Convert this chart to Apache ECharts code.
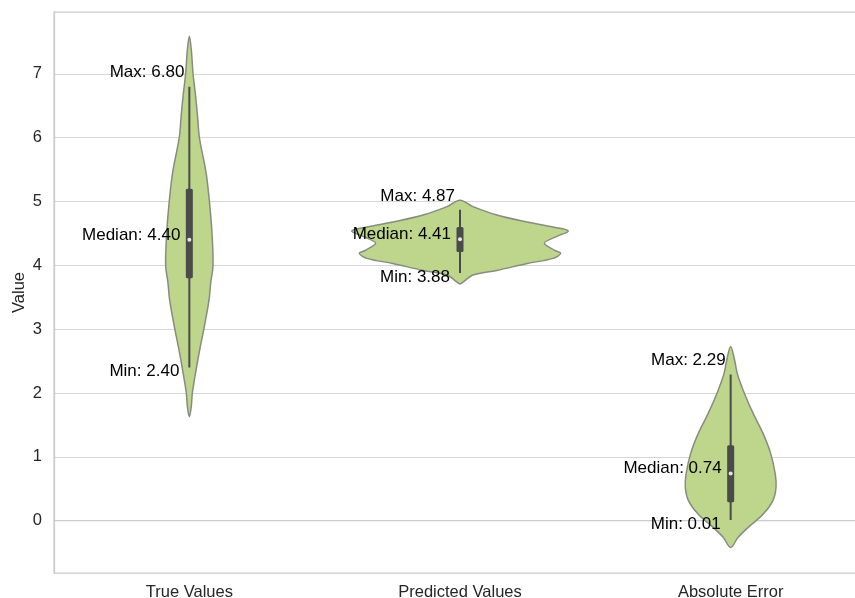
<!DOCTYPE html>
<html>
<head>
<meta charset="utf-8">
<script src="https://cdn.jsdelivr.net/npm/echarts@6/dist/echarts.min.js"></script>
<style>
html,body{margin:0;padding:0;background:#fff;overflow:hidden;}
#chart{width:872px;height:598px;}
</style>
</head>
<body>
<div id="chart"></div>
<script>
// ---- data ----
const categories = ['True Values', 'Predicted Values', 'Absolute Error'];
const mins    = [2.40, 3.88, 0.01];
const q1s     = [3.80, 4.21, 0.29];
const medians = [4.40, 4.41, 0.74];
const q3s     = [5.20, 4.60, 1.18];
const maxs    = [6.80, 4.87, 2.29];

// kernel density outlines: [value, relative half-width], from top to bottom
const densityTrue = [
  [7.59, 0], [7.38, 0.018], [7.01, 0.034], [6.65, 0.058], [6.33, 0.076],
  [6.00, 0.093], [5.60, 0.139], [5.39, 0.160], [5.01, 0.185], [4.56, 0.207],
  [4.01, 0.219], [3.72, 0.197], [3.46, 0.182], [3.00, 0.134], [2.68, 0.096],
  [2.36, 0.062], [2.00, 0.028], [1.79, 0.018], [1.63, 0]
];
const densityPred = [
  [5.02, 0], [4.92, 0.12], [4.79, 0.34], [4.68, 0.62], [4.60, 0.86],
  [4.54, 1.00], [4.45, 0.89], [4.35, 0.78], [4.24, 0.87], [4.19, 0.93],
  [4.11, 0.86], [4.03, 0.62], [3.92, 0.34], [3.85, 0.12], [3.74, 0.03], [3.71, 0]
];
const densityErr = [
  [2.73, 0], [2.51, 0.037], [2.30, 0.062], [1.99, 0.128], [1.67, 0.211],
  [1.36, 0.301], [1.05, 0.370], [0.73, 0.412], [0.52, 0.419], [0.31, 0.389],
  [0.105, 0.301], [-0.105, 0.162], [-0.26, 0.069], [-0.42, 0]
];
const densities = [densityTrue, densityPred, densityErr];

const yTickValues = [0, 1, 2, 3, 4, 5, 6, 7];

// ---- chart ----
const chart = echarts.init(document.getElementById('chart'), null, {renderer: 'canvas'});
const FONT = '"Liberation Sans", Arial, Helvetica, sans-serif';

function renderViolin(params, api) {
  const ci = api.value(0);
  const dens = densities[ci];
  const band = api.size([1, 0])[0];
  const scale = 0.4 * band;
  const cx = api.coord([ci, medians[ci]])[0];
  const pts = [];
  for (let i = 0; i < dens.length; i++) {
    const y = api.coord([ci, dens[i][0]])[1];
    pts.push([cx + dens[i][1] * scale, y]);
  }
  for (let i = dens.length - 2; i >= 1; i--) {
    const y = api.coord([ci, dens[i][0]])[1];
    pts.push([cx - dens[i][1] * scale, y]);
  }
  const yMax = api.coord([ci, maxs[ci]])[1];
  const yMin = api.coord([ci, mins[ci]])[1];
  const yQ1 = api.coord([ci, q1s[ci]])[1];
  const yQ3 = api.coord([ci, q3s[ci]])[1];
  const yMed = api.coord([ci, medians[ci]])[1];
  const txt = (t, x, y) => ({
    type: 'text', z2: 10,
    style: {text: t, x: x, y: y, align: 'right', verticalAlign: 'middle',
            fill: '#000000', font: '17px ' + FONT}
  });
  return {
    type: 'group',
    children: [
      {type: 'polygon', shape: {points: pts, smooth: 0.35},
       style: {fill: '#bdd68b', stroke: '#878c80', lineWidth: 1.5}},
      {type: 'line', shape: {x1: cx, y1: yMax, x2: cx, y2: yMin},
       style: {stroke: '#4a4a4a', lineWidth: 2}},
      {type: 'rect', shape: {x: cx - 3.5, y: yQ3, width: 7, height: yQ1 - yQ3, r: 1.5},
       style: {fill: '#4a4a4a'}},
      {type: 'circle', shape: {cx: cx, cy: yMed, r: 2},
       style: {fill: '#e6e6e6'}},
      txt('Max: ' + maxs[ci].toFixed(2), cx - 5, yMax - 14),
      txt('Median: ' + medians[ci].toFixed(2), cx - 9, yMed - 5),
      txt('Min: ' + mins[ci].toFixed(2), cx - 10, yMin + 4)
    ]
  };
}

chart.setOption({
  animation: false,
  backgroundColor: '#ffffff',
  grid: {left: 54, top: 12, width: 812, height: 561, show: true,
         outerBoundsMode: 'none', containLabel: false,
         borderColor: '#cccccc', borderWidth: 1.25, backgroundColor: 'transparent'},
  xAxis: {
    type: 'category', data: categories, boundaryGap: true,
    axisLine: {show: true, lineStyle: {color: '#cccccc', width: 1.25}},
    axisTick: {show: false},
    axisLabel: {color: '#262626', fontSize: 16.5, fontFamily: FONT, margin: 11},
    splitLine: {show: false}
  },
  yAxis: {
    type: 'value', min: -0.82, max: 7.97, minInterval: 1, maxInterval: 1,
    name: 'Value', nameLocation: 'middle', nameGap: 26, nameRotate: 90,
    nameMoveOverlap: false,
    nameTextStyle: {color: '#262626', fontSize: 16.5, fontFamily: FONT},
    axisLine: {show: true, lineStyle: {color: '#cccccc', width: 1.25}},
    axisTick: {show: false},
    axisLabel: {color: '#262626', fontSize: 16.5, fontFamily: FONT, margin: 12,
                showMinLabel: false, showMaxLabel: false,
                formatter: v => (yTickValues.indexOf(v) >= 0 ? String(v) : '')},
    splitLine: {show: true, lineStyle: {color: '#d6d6d6', width: 1.2}}
  },
  series: [{
    type: 'custom',
    renderItem: renderViolin,
    encode: {x: 0, y: 1},
    data: categories.map((c, i) => [i, medians[i]]),
    clip: false,
    z: 5
  }]
});
</script>
</body>
</html>
